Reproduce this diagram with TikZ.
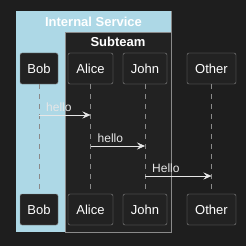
\documentclass[tikz,border=0pt]{standalone}
\usepackage{fontspec}
\setmainfont{Liberation Sans}
\usetikzlibrary{arrows.meta}
\definecolor{bgdark}{HTML}{1E1E1E}
\definecolor{boxdark}{HTML}{222222}
\definecolor{edgegray}{HTML}{8A8A8A}
\definecolor{svcblue}{HTML}{ADD8E6}
\definecolor{msgwhite}{HTML}{E6E6E6}
\begin{document}
\begin{tikzpicture}[x=1pt, y=-1pt, font=\fontsize{13}{15}\selectfont,
	part_node/.style={draw=edgegray, fill=boxdark, rounded corners=2pt, text=white, minimum height=31pt, inner sep=0pt},
	life_line/.style={edgegray, dashed, dash pattern=on 5pt off 5pt, thin},
	msg_arrow/.style={msgwhite, thin, -{Stealth[length=8pt, width=7pt, inset=3pt]}},
	msg_label/.style={anchor=south west, text=msgwhite, inner sep=1pt, font=\fontsize{12}{14}\selectfont}]
				\useasboundingbox[fill=bgdark] (0,0) rectangle (246,246);
				% groups
				\fill[svcblue] (16,11) rectangle (171,232);
				\draw[edgegray, fill=boxdark] (65,32.5) rectangle (171,232);
				\draw[edgegray] (171,11) -- (171,32.5);
				\node[text=white, font=\bfseries\fontsize{13}{15}\selectfont](svc) at (93.5,21.5){Internal Service};
				\node[text=white, font=\bfseries\fontsize{13}{15}\selectfont](sub) at (118,42){Subteam};
				% participants
				\node[part_node, minimum width=38pt](bob_top) at (39,68.5){Bob};
				\node[part_node, minimum width=45pt](alice_top) at (90.5,68.5){Alice};
				\node[part_node, minimum width=44pt](john_top) at (145,68.5){John};
				\node[part_node, minimum width=49pt](other_top) at (211.5,68.5){Other};
				\node[part_node, minimum width=38pt](bob_bot) at (39,209.5){Bob};
				\node[part_node, minimum width=45pt](alice_bot) at (90.5,209.5){Alice};
				\node[part_node, minimum width=44pt](john_bot) at (145,209.5){John};
				\node[part_node, minimum width=49pt](other_bot) at (211.5,209.5){Other};
				\draw[life_line](bob_top) -- (bob_bot);
				\draw[life_line](alice_top) -- (alice_bot);
				\draw[life_line](john_top) -- (john_bot);
				\draw[life_line](other_top) -- (other_bot);
				% messages
				\coordinate(m1_a) at (bob_top.center |- 0,115);
				\coordinate(m1_b) at (alice_top.center |- 0,115);
				\coordinate(m2_a) at (alice_top.center |- 0,146);
				\coordinate(m2_b) at (john_top.center |- 0,146);
				\coordinate(m3_a) at (john_top.center |- 0,176);
				\coordinate(m3_b) at (other_top.center |- 0,176);
				\draw[msg_arrow](m1_a) -- (m1_b);
				\node[msg_label](l1) at ([xshift=6pt, yshift=2pt]m1_a){hello};
				\draw[msg_arrow](m2_a) -- (m2_b);
				\node[msg_label](l2) at ([xshift=6pt, yshift=2pt]m2_a){hello};
				\draw[msg_arrow](m3_a) -- (m3_b);
				\node[msg_label](l3) at ([xshift=6pt, yshift=2pt]m3_a){Hello};
			\end{tikzpicture}
\end{document}
